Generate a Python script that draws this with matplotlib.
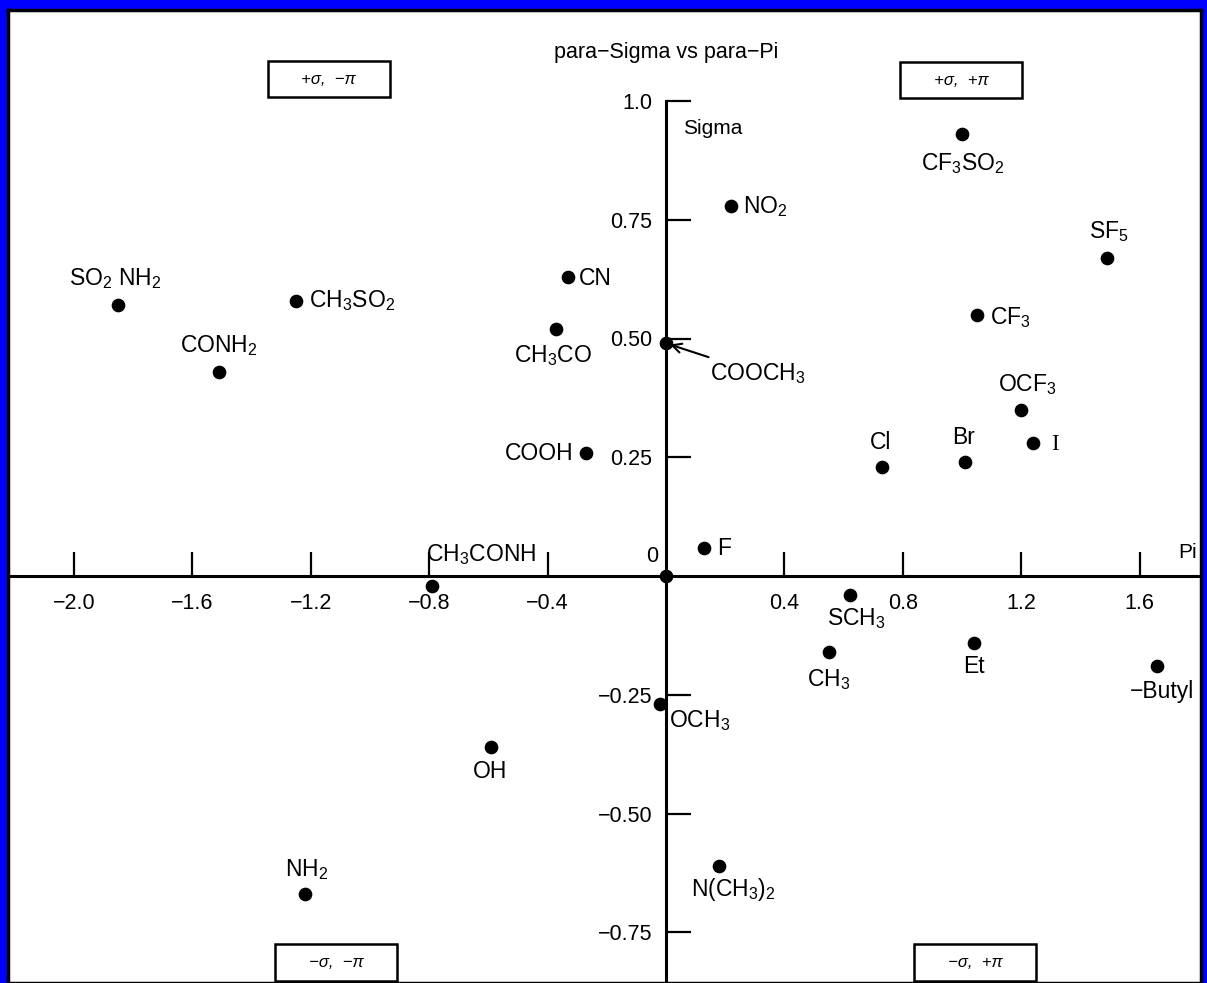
import matplotlib.pyplot as plt

# substituent constants (pi, sigma-para)
labels = [r'SO$_2$ NH$_2$', r'CONH$_2$', r'CH$_3$SO$_2$', 'CN', r'CH$_3$CO',
          r'COOCH$_3$', 'COOH', r'NO$_2$', r'CF$_3$SO$_2$', r'SF$_5$',
          r'CF$_3$', r'OCF$_3$', 'I', 'Br', 'Cl', 'F', 'H',
          r'CH$_3$CONH', r'SCH$_3$', 'Et', r'CH$_3$', '\u2212Butyl',
          r'OCH$_3$', 'OH', r'N(CH$_3$)$_2$', r'NH$_2$']
pi = [-1.85, -1.51, -1.25, -0.33, -0.37,
      0.0, -0.27, 0.22, 1.00, 1.49,
      1.05, 1.20, 1.24, 1.01, 0.73, 0.13, 0.0,
      -0.79, 0.62, 1.04, 0.55, 1.66,
      -0.02, -0.59, 0.18, -1.22]
sigma = [0.57, 0.43, 0.58, 0.63, 0.52,
         0.49, 0.26, 0.78, 0.93, 0.67,
         0.55, 0.35, 0.28, 0.24, 0.23, 0.06, 0.0,
         -0.02, -0.04, -0.14, -0.16, -0.19,
         -0.27, -0.36, -0.61, -0.67]

xticks = [-2.0, -1.6, -1.2, -0.8, -0.4, 0.4, 0.8, 1.2, 1.6]
yticks = [-0.75, -0.5, -0.25, 0.25, 0.5, 0.75, 1.0]
ytick_labels = ['\u22120.75', '\u22120.50', '\u22120.25', '0.25', '0.50', '0.75', '1.0']

quadrants = ['+\u03c3,  \u2212\u03c0', '+\u03c3,  +\u03c0', '\u2212\u03c3,  \u2212\u03c0', '\u2212\u03c3,  +\u03c0']

# label placement: (dx, dy) in pixels, horizontal alignment
offsets = [(-3, 27, 'center'), (0, 26, 'center'), (13, 0, 'left'), (11, -2, 'left'), (-3, -27, 'center'),
           None, (-13, -1, 'right'), (12, -1, 'left'), (1, -29, 'center'), (2, 26, 'center'),
           (13, -3, 'left'), (6, 25, 'center'), (18, -1, 'left'), (-1, 24, 'center'), (-2, 24, 'center'),
           (13, -1, 'left'), None,
           (-6, 31, 'left'), (7, -24, 'center'), (0, -24, 'center'), (0, -28, 'center'), (5, -25, 'center'),
           (9, -16, 'left'), (-1, -25, 'center'), (14, -24, 'center'), (2, 25, 'center')]

plt.rcParams['font.family'] = ['Liberation Sans', 'DejaVu Sans']
plt.rcParams['mathtext.fontset'] = 'custom'
plt.rcParams['mathtext.rm'] = 'Liberation Sans'
plt.rcParams['mathtext.it'] = 'Liberation Sans:italic'

W, H = 1207, 983
fig = plt.figure(figsize=(W / 100, H / 100), dpi=100, facecolor='#0000ff')

# white panel with black frame
rect = [8 / W, 0, (1201 - 8) / W, (H - 10) / H]
bg = fig.add_axes(rect)
bg.set_facecolor('white')
bg.set_xticks([])
bg.set_yticks([])
for s in bg.spines.values():
    s.set_linewidth(2.5)
    s.set_color('black')

ax = fig.add_axes(rect)
ax.patch.set_alpha(0)
x0, sx = 666, 296.0
y0, sy = 576, 475.0
ax.set_xlim((8 - x0) / sx, (1201 - x0) / sx)
ax.set_ylim((y0 - H) / sy, (y0 - 10) / sy)

for s in ['top', 'right']:
    ax.spines[s].set_visible(False)
ax.spines['left'].set_position('zero')
ax.spines['bottom'].set_position('zero')
ax.spines['left'].set_bounds((y0 - H) / sy, 1.0)
ax.spines['left'].set_linewidth(2.2)
ax.spines['bottom'].set_linewidth(2.2)

ax.set_xticks(xticks)
ax.set_xticklabels(['%.1f' % t if t > 0 else '\u2212%.1f' % -t for t in xticks])
ax.set_yticks(yticks)
ax.set_yticklabels(ytick_labels)
ax.tick_params(axis='x', direction='in', length=17, width=1.6, pad=12, labelsize=15.5)
ax.tick_params(axis='y', direction='in', length=18, width=1.6, pad=10, labelsize=15.5)
ax.text(-0.045, 0.04, '0', ha='center', va='center', fontsize=15.5)

ax.scatter(pi, sigma, s=78, color='black', zorder=5, clip_on=False)

for lab, x, y, off in zip(labels, pi, sigma, offsets):
    if off is None:
        continue
    dx, dy, ha = off
    fam = ['Liberation Serif'] if lab == 'I' else None
    ax.annotate(lab, (x, y), xytext=(dx, dy), textcoords='offset pixels',
                ha=ha, va='center', fontsize=16.5, family=fam)

# COOCH3 with arrow
i = labels.index(r'COOCH$_3$')
ax.annotate(labels[i], (pi[i], sigma[i]), xytext=(44, -30), textcoords='offset pixels',
            ha='left', va='center', fontsize=16.5,
            arrowprops=dict(arrowstyle='->', color='black', lw=1.5, shrinkA=2, shrinkB=3))

ax.text(0.0, 1.103, 'para\u2212Sigma vs para\u2212Pi', ha='center', va='center', fontsize=15.5)
ax.text(0.058, 0.943, 'Sigma', ha='left', va='center', fontsize=15)
ax.text(1.795, 0.05, 'Pi', ha='right', va='center', fontsize=15)

qx = [-1.139, 0.997, -1.115, 1.044]
qy = [1.046, 1.044, -0.813, -0.813]
for q, x, y in zip(quadrants, qx, qy):
    ax.text(x, y, '     ' + q + '     ', ha='center', va='center', fontsize=12, style='italic',
            bbox=dict(boxstyle='square,pad=0.65', fc='white', ec='black', lw=1.8))

fig.savefig('out.png', dpi=100, facecolor=fig.get_facecolor())
